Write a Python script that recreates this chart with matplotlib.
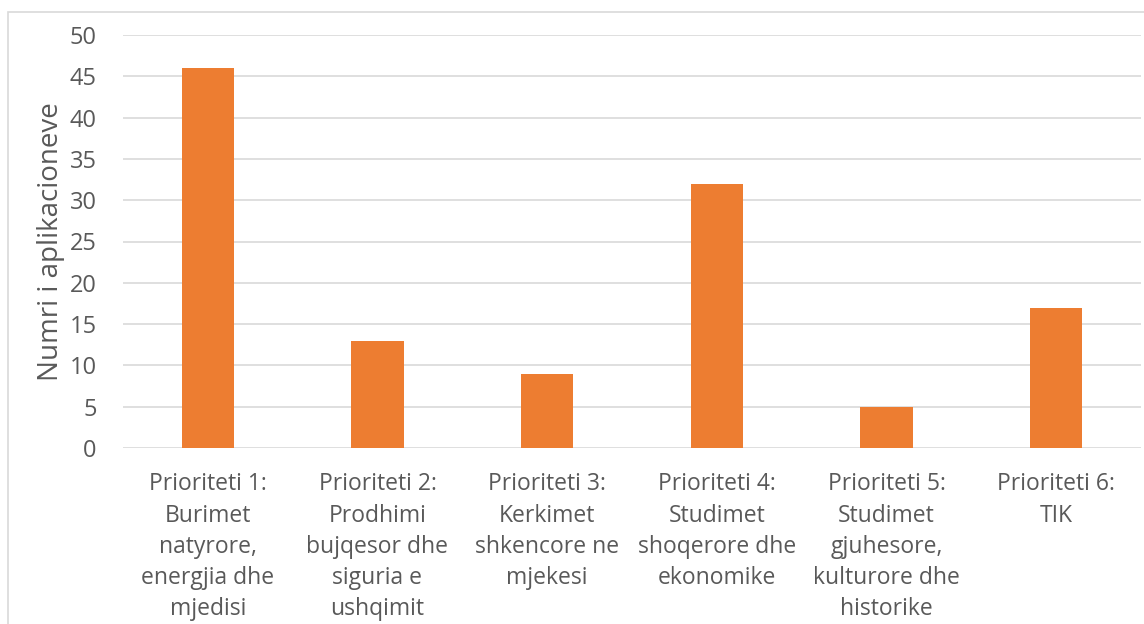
import matplotlib
matplotlib.use("Agg")
import matplotlib.pyplot as plt
from matplotlib.patches import Rectangle

categories = [
    "Prioriteti 1:\nBurimet\nnatyrore,\nenergjia dhe\nmjedisi",
    "Prioriteti 2:\nProdhimi\nbujqesor dhe\nsiguria e\nushqimit",
    "Prioriteti 3:\nKerkimet\nshkencore ne\nmjekesi",
    "Prioriteti 4:\nStudimet\nshoqerore dhe\nekonomike",
    "Prioriteti 5:\nStudimet\ngjuhesore,\nkulturore dhe\nhistorike",
    "Prioriteti 6:\nTIK",
]
values = [46, 13, 9, 32, 5, 17]
yticks = [0, 5, 10, 15, 20, 25, 30, 35, 40, 45, 50]
ylabel = "Numri i aplikacioneve"

plt.rcParams['font.family'] = ['Open Sans', 'DejaVu Sans']
W, H = 1144, 624
fig = plt.figure(figsize=(W/100, H/100), dpi=100)
ax = fig.add_axes([123/W, 1-448/H, (1141-123)/W, (448-35)/H])

text_color = "#595959"
grid_color = "#D9D9D9"
x = list(range(len(values)))
ax.bar(x, values, width=0.31, color="#ED7D31", zorder=3)
ax.set_xlim(-0.5, len(values)-0.5)
ax.set_ylim(0, 50)
ax.set_yticks(yticks)
ax.set_xticks(x)
ax.set_xticklabels(categories, fontsize=16.5, color=text_color, linespacing=1.40, va='top')
ax.tick_params(axis='y', labelsize=17, colors=text_color, length=0, pad=19)
ax.tick_params(axis='x', length=0, pad=17.5)
ax.yaxis.grid(True, color=grid_color, linewidth=1.2, zorder=0)
for s in ax.spines.values():
    s.set_visible(False)
ax.set_ylabel(ylabel, fontsize=20, color=text_color, labelpad=3)

fig.patches.append(Rectangle((8/W, -0.1), 1.2, 1-12/H+0.1, transform=fig.transFigure,
                             fill=False, edgecolor="#D9D9D9", linewidth=1.2, zorder=0))
fig.savefig("out.png", dpi=100)
